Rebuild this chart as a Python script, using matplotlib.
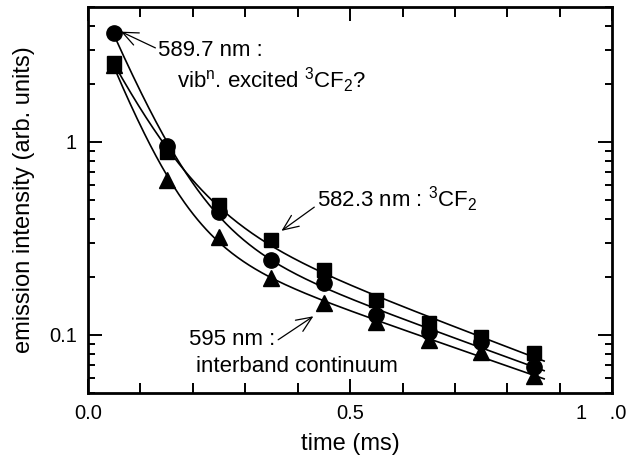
import numpy as np
import matplotlib.pyplot as plt
import matplotlib.transforms as mtransforms

plt.rcParams['font.family'] = ['Liberation Sans', 'DejaVu Sans']
plt.rcParams['mathtext.fontset'] = 'custom'
plt.rcParams['mathtext.rm'] = 'Liberation Sans'
plt.rcParams['mathtext.it'] = 'Liberation Sans'

# time (ms) of each measurement
t = np.array([0.05, 0.15, 0.25, 0.35, 0.45, 0.55, 0.65, 0.75, 0.85])
# emission intensity (arb. units)
y_589 = np.array([3.67, 0.95, 0.434, 0.245, 0.186, 0.127, 0.104, 0.092, 0.068])   # circles
y_582 = np.array([2.57, 0.89, 0.472, 0.31, 0.217, 0.152, 0.115, 0.098, 0.081])    # squares
y_595 = np.array([2.50, 0.636, 0.322, 0.197, 0.147, 0.117, 0.094, 0.082, 0.061])  # triangles


def biexp_fit(x, y):
    # double exponential fit, grid over decay times, weighted lsq for amplitudes
    best = None
    for t1 in np.linspace(0.02, 0.4, 77):
        for t2 in np.linspace(0.1, 2.0, 96):
            if t2 <= t1:
                continue
            A = np.column_stack([np.exp(-x / t1), np.exp(-x / t2)]) / y[:, None]
            a, *_ = np.linalg.lstsq(A, np.ones_like(y), rcond=None)
            if np.any(a < 0):
                continue
            r = np.sum((A @ a - 1) ** 2)
            if best is None or r < best[0]:
                best = (r, t1, t2, a)
    _, t1, t2, a = best
    return lambda xx: a[0] * np.exp(-xx / t1) + a[1] * np.exp(-xx / t2)


fig = plt.figure(figsize=(6.28, 4.55), dpi=100)
ax = fig.add_axes([0.140, 0.136, 0.835, 0.849])

tt = np.linspace(0.05, 0.87, 300)
for y, m, ms in [(y_582, 's', 10), (y_589, 'o', 11), (y_595, '^', 11)]:
    f = biexp_fit(t, y)
    ax.plot(tt, f(tt), color='black', lw=1.2)
    ax.plot(t, y, m, color='black', ms=ms, ls='none')

ax.set_yscale('log')
ax.set_xlim(0, 1.0)
ax.set_ylim(0.05, 5)

ax.set_xticks([0.0, 0.5, 1.0])
ax.set_xticklabels(['0.0', '0.5', '1    .0'])
ax.set_xticks(np.arange(0.1, 1.0, 0.1), minor=True)
ax.set_yticks([0.1, 1])
ax.set_yticklabels(['0.1', '1'])
ax.tick_params(which='both', direction='in', top=True, right=True, labelsize=14.5, width=1.4)
ax.tick_params(which='major', length=10, pad=8)
ax.tick_params(which='minor', length=5)
ax.tick_params(axis='x', which='minor', length=7)
lab = ax.get_xticklabels()[2]
lab.set_horizontalalignment('right')
lab.set_transform(lab.get_transform() + mtransforms.ScaledTranslation(0.14, 0, fig.dpi_scale_trans))
for s in ax.spines.values():
    s.set_linewidth(2)

ax.set_xlabel('time (ms)', fontsize=17, labelpad=7)
ax.set_ylabel('emission intensity (arb. units)', fontsize=17, labelpad=10)

arrow = dict(arrowstyle='->, head_length=0.7, head_width=0.3', color='black', lw=0.9, shrinkA=0, shrinkB=0)
fs = 16
ax.annotate('589.7 nm :', xy=(0.063, 3.72), xytext=(0.134, 2.79), fontsize=fs, va='baseline', ha='left',
            arrowprops=dict(arrow, relpos=(0, 0.55)))
ax.text(0.169, 1.905, r'vib$^{\mathregular{n}}$. excited $^{\mathregular{3}}$CF$_{\mathregular{2}}$?',
        fontsize=fs, va='baseline', ha='left')
ax.annotate(r'582.3 nm : $^{\mathregular{3}}$CF$_{\mathregular{2}}$', xy=(0.369, 0.346), xytext=(0.437, 0.4605),
            fontsize=fs, va='baseline', ha='left', arrowprops=dict(arrow, relpos=(0, 0.3)))
ax.annotate('595 nm :', xy=(0.430, 0.125), xytext=(0.193, 0.0887), fontsize=fs, va='baseline', ha='left',
            arrowprops=dict(arrow, relpos=(1, 0.4)))
ax.text(0.206, 0.0643, 'interband continuum', fontsize=fs, va='baseline', ha='left')

fig.savefig('out.png', dpi=100)
